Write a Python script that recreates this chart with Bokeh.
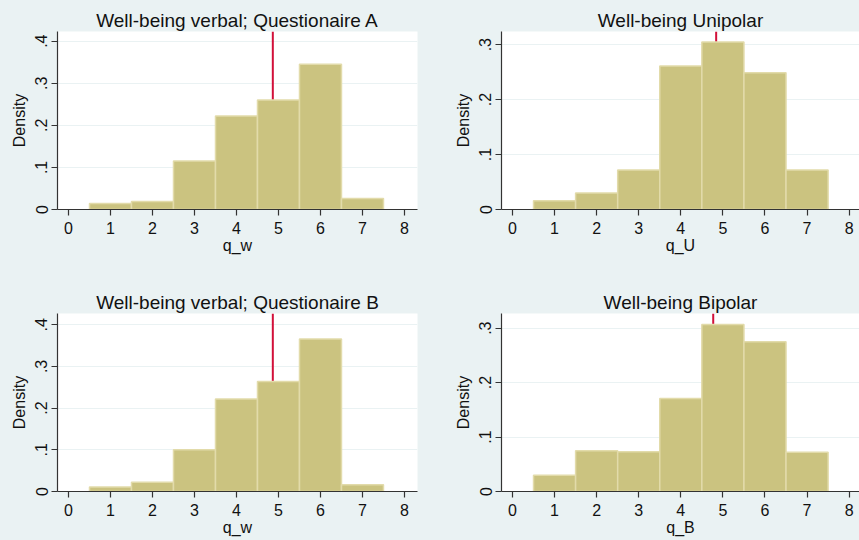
from bokeh.plotting import figure
from bokeh.layouts import column, row
from bokeh.models import Span, FixedTicker, CustomJSTickFormatter, Range1d
from bokeh.embed import file_html
from bokeh.resources import INLINE

# ---- data ----
bin_centers = [1, 2, 3, 4, 5, 6, 7]
bin_width = 1.0
dens_verbal_A = [0.014, 0.019, 0.115, 0.222, 0.260, 0.345, 0.026]
dens_unipolar = [0.016, 0.030, 0.072, 0.261, 0.305, 0.249, 0.072]
dens_verbal_B = [0.011, 0.022, 0.100, 0.222, 0.264, 0.366, 0.016]
dens_bipolar = [0.030, 0.075, 0.073, 0.171, 0.307, 0.275, 0.072]
mean_verbal_A = 4.865
mean_unipolar = 4.84
mean_verbal_B = 4.865
mean_bipolar = 4.77
x_ticks = [0, 1, 2, 3, 4, 5, 6, 7, 8]
y_ticks_04 = [0, 0.1, 0.2, 0.3, 0.4]
y_ticks_03 = [0, 0.1, 0.2, 0.3]

BG = "#EAF2F3"
BAR = "#CBC380"
BAR_LINE = "#E2DBAA"
RED = "#D2103A"
FONT = "Liberation Sans"


def panel(title, xlabel, dens, mean, yticks, ytop, xr, w, h, left, right, top, bottom):
    p = figure(width=w, height=h, output_backend="svg", toolbar_location=None,
               x_range=Range1d(*xr), y_range=Range1d(0, ytop),
               min_border_left=left, min_border_right=right,
               min_border_top=top, min_border_bottom=bottom,
               background_fill_color="white", border_fill_color=BG,
               outline_line_color=None, title=title)
    p.title.align = "center"
    p.title.text_font = FONT
    p.title.text_font_size = "19px"
    p.title.text_font_style = "normal"
    p.title.text_color = "#111111"
    p.title.standoff = 2

    p.add_layout(Span(location=mean, dimension="height", line_color=RED,
                      line_width=2, level="underlay"))
    p.vbar(x=bin_centers, width=bin_width, bottom=0, top=dens,
           fill_color=BAR, line_color=BAR_LINE, line_width=1.5)

    p.xgrid.visible = False
    p.ygrid.ticker = FixedTicker(ticks=yticks)
    p.ygrid.grid_line_color = BG
    p.ygrid.grid_line_width = 1

    for ax in (p.xaxis[0], p.yaxis[0]):
        ax.axis_line_color = "#333333"
        ax.axis_line_width = 1.2
        ax.major_tick_line_color = "#333333"
        ax.major_tick_line_width = 1.2
        ax.major_tick_out = 6
        ax.major_tick_in = 0
        ax.minor_tick_line_color = None
        ax.major_label_text_font = FONT
        ax.major_label_text_font_size = "16px"
        ax.major_label_text_color = "#111111"
        ax.axis_label_text_font = FONT
        ax.axis_label_text_font_size = "16px"
        ax.axis_label_text_font_style = "normal"
        ax.axis_label_text_color = "#111111"

    p.xaxis.ticker = FixedTicker(ticks=x_ticks)
    p.xaxis.axis_label = xlabel
    p.xaxis.major_label_standoff = 6
    p.xaxis.axis_label_standoff = 0

    p.yaxis.ticker = FixedTicker(ticks=yticks)
    p.yaxis.formatter = CustomJSTickFormatter(
        code="return tick == 0 ? '0' : tick.toFixed(1).replace(/^0/, '');")
    p.yaxis.major_label_orientation = "vertical"
    p.yaxis.axis_label = "Density"
    p.yaxis.major_label_standoff = 4
    p.yaxis.axis_label_standoff = 5
    return p


p1 = panel("Well-being verbal; Questionaire A", "q_w", dens_verbal_A, mean_verbal_A,
           y_ticks_04, 0.423, (-0.262, 8.31), 430, 270, 57, 13, 31, 61)
p2 = panel("Well-being Unipolar", "q_U", dens_unipolar, mean_unipolar,
           y_ticks_03, 0.324, (-0.261, 8.246), 429, 270, 71, 0, 31, 61)
p3 = panel("Well-being verbal; Questionaire B", "q_w", dens_verbal_B, mean_verbal_B,
           y_ticks_04, 0.427, (-0.262, 8.31), 430, 270, 57, 13, 43, 49)
p4 = panel("Well-being Bipolar", "q_B", dens_bipolar, mean_bipolar,
           y_ticks_03, 0.327, (-0.261, 8.246), 429, 270, 71, 0, 43, 49)

layout = column(row(p1, p2, spacing=0), row(p3, p4, spacing=0), spacing=0,
                styles={"background-color": BG})

open("out.html", "w").write(file_html(layout, INLINE))
